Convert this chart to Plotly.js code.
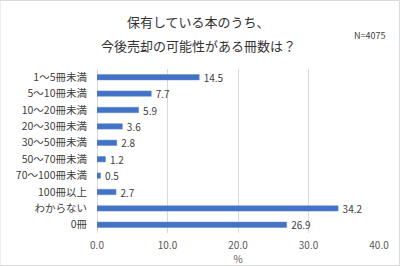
<!DOCTYPE html>
<html><head><meta charset="utf-8">
<script src="https://cdn.plot.ly/plotly-3.0.1.min.js"></script>
<style>html,body{margin:0;padding:0;background:#fff;}#c{width:400px;height:266px;}</style>
</head><body><div id="c"></div>
<script>
const categories = ["1～5冊未満","5～10冊未満","10～20冊未満","20～30冊未満","30～50冊未満","50～70冊未満","70～100冊未満","100冊以上","わからない","0冊"];
const values = [14.5,7.7,5.9,3.6,2.8,1.2,0.5,2.7,34.2,26.9];
const tickVals = [0,10,20,30,40];
const tickText = ["0.0","10.0","20.0","30.0","40.0"];
const font = "'Noto Sans CJK JP', 'Noto Sans', sans-serif";
Plotly.newPlot('c', [{
  type:'bar', orientation:'h', y:categories, x:values,
  marker:{color:'#4472C4', line:{color:'#5B8BD6', width:0.5}},
  text:values.map(v=>'\u00a0\u00a0'+v.toFixed(1)), textposition:'outside', cliponaxis:false, constraintext:'none',
  textfont:{family:font, size:10, color:'#404040'}, width:0.33
}], {
  width:400, height:266,
  margin:{l:97, r:21, t:69, b:33},
  paper_bgcolor:'#fff', plot_bgcolor:'#fff',
  showlegend:false,
  xaxis:{range:[0,40], tickvals:tickVals, ticktext:tickText, showgrid:true, gridcolor:'#D9D9D9', gridwidth:1,
    zeroline:true, zerolinecolor:'#D9D9D9', tickfont:{family:font, size:10, color:'#595959'}, ticks:'', ticklabelstandoff:5,
    title:{text:'%', font:{family:font, size:10, color:'#595959'}, standoff:3}, automargin:false},
  yaxis:{autorange:'reversed', tickfont:{family:font, size:10.5, color:'#404040'}, ticks:'', ticklabelstandoff:9, automargin:false},
  annotations:[
    {text:'保有している本のうち、', xref:'paper', yref:'paper', x:0.5, y:1, xanchor:'center', yanchor:'middle',
     xshift:-40, yshift:69-21, showarrow:false, font:{family:font, size:13, color:'#333333'}},
    {text:'今後売却の可能性がある冊数は？', xref:'paper', yref:'paper', x:0.5, y:1, xanchor:'center', yanchor:'middle',
     xshift:-40, yshift:69-45, showarrow:false, font:{family:font, size:13, color:'#333333'}},
    {text:'N=4075', xref:'paper', yref:'paper', x:1, y:1, xanchor:'right', yanchor:'middle', xshift:8, yshift:69-35, showarrow:false,
     font:{family:font, size:9, color:'#404040'}}
  ],
  shapes:[{type:'rect', xref:'paper', yref:'paper', x0:-97/282, x1:1+20.5/282, y0:-32.5/164, y1:1+68.5/164, line:{color:'#D9D9D9', width:1}}]
}, {staticPlot:true});
</script></body></html>
